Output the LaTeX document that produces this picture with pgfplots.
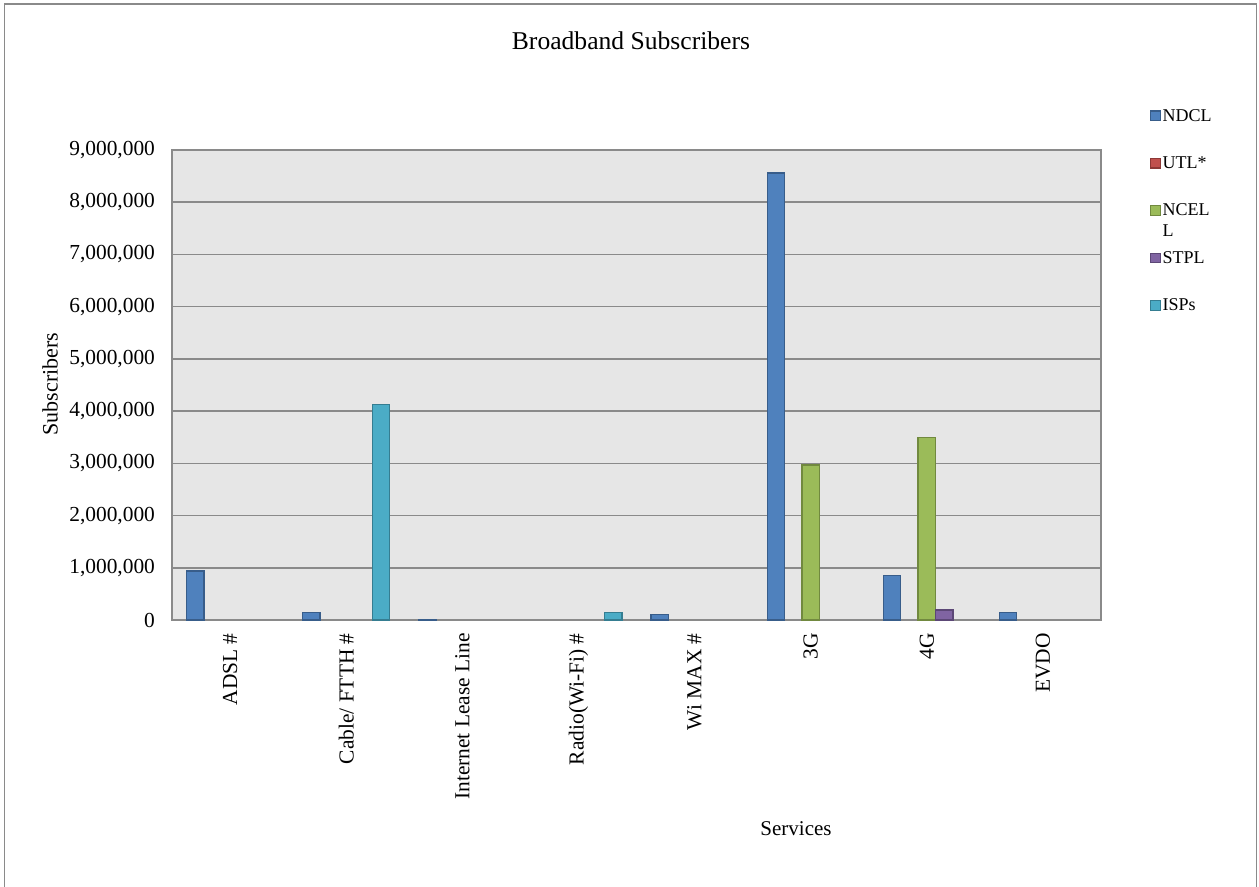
\documentclass[border=0pt]{standalone}
\usepackage{fontspec}
\setmainfont{Liberation Serif}
\usepackage{pgfplots}
\pgfplotsset{compat=1.18}
\definecolor{cA}{HTML}{4F81BD}\definecolor{bA}{HTML}{385D8A}
\definecolor{cB}{HTML}{C0504D}\definecolor{bB}{HTML}{8C3836}
\definecolor{cC}{HTML}{9BBB59}\definecolor{bC}{HTML}{71893F}
\definecolor{cD}{HTML}{8064A2}\definecolor{bD}{HTML}{5C4776}
\definecolor{cE}{HTML}{4BACC6}\definecolor{bE}{HTML}{357D91}
\definecolor{gridc}{HTML}{8A8A8A}
\definecolor{bgc}{HTML}{E6E6E6}
\begin{document}
\begin{tikzpicture}
\path[use as bounding box] (0,0) rectangle (629.5pt,-443.5pt);
\draw[gridc,line width=0.8pt] (2.3pt,-2pt) rectangle (628.3pt,-446pt);
\begin{axis}[
  at={(86pt,-310pt)}, anchor=south west,
  width=464.5pt, height=235pt, scale only axis,
  axis background/.style={fill=bgc},
  xmin=-0.5, xmax=7.5, ymin=0, ymax=9000000,
  xtick={0,...,7},
  xticklabels={ADSL \#,Cable/ FTTH \#,Internet Lease Line,Radio(Wi-Fi) \#,Wi MAX \#,3G,4G,EVDO},
  ytick={0,1000000,...,9000000},
  scaled y ticks=false,
  yticklabel style={/pgf/number format/.cd,fixed,1000 sep={,},assume math mode=true},
  tick label style={font=\fontsize{10.7}{12}\selectfont},
  xticklabel style={rotate=90,anchor=east,inner sep=0pt},
  xticklabel shift=6.5pt,
  yticklabel shift=5pt,
  major tick length=0pt,
  ymajorgrids,
  grid style={gridc,line width=0.8pt},
  axis line style={gridc,line width=0.8pt},
  legend style={at={(1.046,1.10)},anchor=north west,draw=none,fill=none,
    font=\fontsize{9}{10.5}\selectfont,row sep=14.6pt,
    nodes={inner sep=0.8pt,text height=6pt,text depth=1.5pt}},
  legend cell align=left,
  legend image code/.code={\draw[#1,line width=0.6pt] (0pt,-2pt) rectangle (4.8pt,2.8pt);},
]
\addplot[ybar,bar width=0.15,bar shift=-0.3,fill=cA,draw=bA,line width=0.6pt]
 coordinates {(0,938000) (1,145000) (2,8000) (4,100000) (5,8560000) (6,848000) (7,147000)};
\addlegendentry{NDCL}
\addlegendimage{fill=cB,draw=bB}
\addlegendentry{UTL*}
\addplot[ybar,bar width=0.15,bar shift=0,fill=cC,draw=bC,line width=0.6pt]
 coordinates {(5,2970000) (6,3490000)};
\addlegendentry{\smash{\begin{tabular}[t]{@{}l@{}}NCEL\\L\end{tabular}}}
\addplot[ybar,bar width=0.15,bar shift=0.15,fill=cD,draw=bD,line width=0.6pt]
 coordinates {(6,191000)};
\addlegendentry{STPL}
\addplot[ybar,bar width=0.15,bar shift=0.3,fill=cE,draw=bE,line width=0.6pt]
 coordinates {(1,4120000) (3,140000)};
\addlegendentry{ISPs}
\end{axis}
\node[font=\fontsize{12.8}{14}\selectfont] at (315.5pt,-20.5pt) {Broadband Subscribers};
\node[rotate=90,font=\fontsize{11}{13}\selectfont] at (25pt,-192pt) {Subscribers};
\node[font=\fontsize{10.5}{12}\selectfont] at (398pt,-414.5pt) {Services};
\end{tikzpicture}
\end{document}
